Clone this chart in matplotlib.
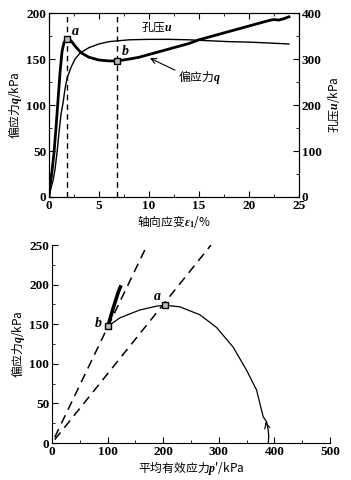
import matplotlib

matplotlib.use('Agg')
import matplotlib.pyplot as plt
from matplotlib.ticker import MultipleLocator

plt.rcParams['font.family'] = ['Liberation Serif', 'Noto Sans CJK SC']
plt.rcParams['font.weight'] = 'bold'
plt.rcParams['mathtext.fontset'] = 'custom'
plt.rcParams['mathtext.it'] = 'Liberation Serif:italic:bold'
plt.rcParams['mathtext.rm'] = 'Liberation Serif:bold'
plt.rcParams['font.size'] = 9.5

CJK = dict(family=['Noto Sans CJK SC', 'Liberation Serif'], fontweight='normal', fontsize=8.5)

# deviator stress q vs axial strain
eps_q = [0, 0.1, 0.3, 0.5, 0.7, 0.9, 1.1, 1.3, 1.5, 1.8, 2.2, 2.7, 3.2, 4, 5, 6, 6.8,
         8, 9, 10, 12, 14, 15, 17, 18, 20, 21, 22, 22.5, 23, 23.5, 24]
q_vals = [0, 12, 28, 48, 75, 105, 135, 158, 168, 172, 170, 163, 157, 152, 149, 148, 148,
          150, 152, 155, 161, 167, 171, 177, 180, 186, 189, 192, 193, 192.5, 194, 196]

# pore pressure u vs axial strain
eps_u = [0, 0.2, 0.4, 0.6, 0.8, 1.0, 1.2, 1.4, 1.6, 1.8, 2.2, 2.6, 3.1, 4, 5, 6, 7,
         8, 10, 12, 14, 16, 18, 20, 22, 24]
u_vals = [0, 20, 35, 60, 96, 140, 180, 204, 235, 258, 282, 300, 313, 325, 333, 338, 340,
          342, 343, 343, 342, 340, 338, 337, 335, 333]

# stress path p'-q
p_path = [389, 390, 389, 386, 380, 368, 350, 326, 296, 266, 230, 203, 189, 158, 122, 108, 101]
q_path = [0, 8, 16, 27, 33, 67, 92, 121, 146, 162, 172, 174, 173, 168, 158, 151, 148]
p_tail = [101, 105, 110, 115, 119, 123]
q_tail = [148, 158, 170, 181, 190, 197]

eps_a, q_a = 1.8, 172
eps_b, q_b = 6.8, 148
p_a, p_b = 203, 101
slopes = [1.46, 0.874]

fig = plt.figure(figsize=(3.51, 4.8), dpi=100)

# ---- top chart
ax = fig.add_axes([0.1396, 0.5896, 0.712, 0.383])
ax.plot(eps_q, q_vals, color='black', lw=2.0)
ax2 = ax.twinx()
ax2.plot(eps_u, u_vals, color='black', lw=1.0)
for e in (eps_a, eps_b):
    ax.axvline(e, color='black', ls=(0, (4, 3)), lw=1.0)
ax.plot([eps_a, eps_b], [q_a, q_b], 's', ms=5, mfc='#bbbbbb', mec='black', mew=1.0, zorder=5)
ax.text(eps_a + 0.5, q_a + 4, 'a', style='italic', fontsize=10)
ax.text(eps_b + 0.5, q_b + 6, 'b', style='italic', fontsize=10)
ax.text(10.8, 185, '孔压$u$', ha='center', va='center', **CJK)
ax.text(15.05, 131, '偏应力$q$', ha='center', va='center', **CJK)
ax.annotate('', xy=(10.1, 151), xytext=(12.6, 138),
            arrowprops=dict(arrowstyle='->', color='black', lw=0.8, shrinkA=0, shrinkB=0))

ax.set_xlim(0, 25)
ax.set_ylim(0, 200)
ax2.set_ylim(0, 400)
ax.xaxis.set_major_locator(MultipleLocator(5))
ax.xaxis.set_minor_locator(MultipleLocator(2.5))
ax.yaxis.set_major_locator(MultipleLocator(50))
ax.yaxis.set_minor_locator(MultipleLocator(25))
ax2.yaxis.set_major_locator(MultipleLocator(100))
ax2.yaxis.set_minor_locator(MultipleLocator(50))
ax.tick_params(which='both', direction='in', top=True, labelsize=9.5, pad=2)
ax.tick_params(which='major', length=4)
ax.tick_params(which='minor', length=2)
ax2.tick_params(which='both', direction='in', labelsize=9.5, pad=2)
ax2.tick_params(which='major', length=4)
ax2.tick_params(which='minor', length=2)
ax.set_xlabel('轴向应变$\\varepsilon_1$/%', labelpad=1, **CJK)
ax.set_ylabel('偏应力$q$/kPa', labelpad=2, **CJK)
ax2.set_ylabel('孔压$u$/kPa', labelpad=3, **CJK)

# ---- bottom chart
bx = fig.add_axes([0.148, 0.077, 0.792, 0.4125])
bx.plot(p_path, q_path, color='black', lw=0.9)
bx.plot(p_tail, q_tail, color='black', lw=2.6)
for k in slopes:
    p_end = 250 / k
    bx.plot([5, p_end], [5 * k, 250], color='black', ls=(0, (6, 4)), lw=1.1)
bx.annotate('', xy=(383, 30), xytext=(386, 22),
            arrowprops=dict(arrowstyle='->', color='black', lw=0.8))
bx.plot([p_a, p_b], [q_a + 2, q_b], 's', ms=5, mfc='#bbbbbb', mec='black', mew=1.0, zorder=5)
bx.text(p_a - 14, q_a + 8, 'a', style='italic', fontsize=10, ha='center')
bx.text(p_b - 18, q_b - 2, 'b', style='italic', fontsize=10, ha='center')

bx.set_xlim(0, 500)
bx.set_ylim(0, 250)
bx.spines['top'].set_visible(False)
bx.spines['right'].set_visible(False)
bx.xaxis.set_major_locator(MultipleLocator(100))
bx.xaxis.set_minor_locator(MultipleLocator(50))
bx.yaxis.set_major_locator(MultipleLocator(50))
bx.yaxis.set_minor_locator(MultipleLocator(25))
bx.tick_params(which='both', direction='in', labelsize=9.5, pad=2)
bx.tick_params(which='major', length=4)
bx.tick_params(which='minor', length=2)
bx.set_xlabel("平均有效应力$p$'/kPa", labelpad=1, **CJK)
bx.set_ylabel('偏应力$q$/kPa', labelpad=2, **CJK)

fig.savefig('out.png', dpi=100)
